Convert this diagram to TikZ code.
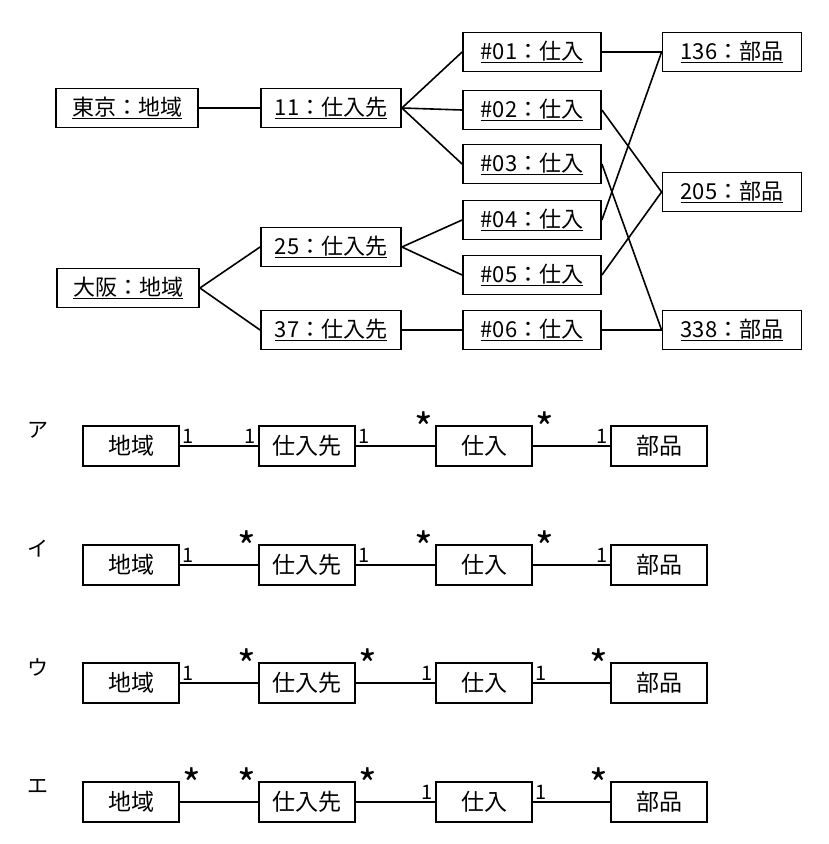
\documentclass[tikz,border=0pt]{standalone}
\usepackage{fontspec}
\setmainfont{Noto Sans CJK JP}
\newcommand{\mymul}[1]{\if#1*\raisebox{-9pt}{\fontsize{40}{40}\selectfont *}\else{\fontsize{20}{22}\selectfont #1}\fi}
\begin{document}
\begin{tikzpicture}[x=1pt,y=-1pt,
  obj/.style={draw,line width=1.8pt,minimum height=39pt,inner sep=0pt,font=\fontsize{22}{24}\selectfont},
  cls/.style={draw,line width=1.6pt,minimum width=96pt,minimum height=40pt,inner sep=0pt,font=\fontsize{23}{25}\selectfont},
  ln/.style={line width=1.6pt},
  mul/.style={inner sep=2pt}]
\useasboundingbox (0,0) rectangle (829,844);
% top object diagram
\node[obj,minimum width=142pt] (tk) at (127,108) {\underline{東京：地域}};
\node[obj,minimum width=142pt] (os) at (128,288) {\underline{大阪：地域}};
\node[obj,minimum width=140pt] (s11) at (331,108) {\underline{11：仕入先}};
\node[obj,minimum width=140pt] (s25) at (331,247) {\underline{25：仕入先}};
\node[obj,minimum width=140pt] (s37) at (331,330) {\underline{37：仕入先}};
\node[obj,minimum width=138pt] (p1) at (532,52) {\underline{\#01：仕入}};
\node[obj,minimum width=138pt] (p2) at (532,110) {\underline{\#02：仕入}};
\node[obj,minimum width=138pt] (p3) at (532,164) {\underline{\#03：仕入}};
\node[obj,minimum width=138pt] (p4) at (532,220) {\underline{\#04：仕入}};
\node[obj,minimum width=138pt] (p5) at (532,275) {\underline{\#05：仕入}};
\node[obj,minimum width=138pt] (p6) at (532,330) {\underline{\#06：仕入}};
\node[obj,minimum width=139pt] (b136) at (732,52) {\underline{136：部品}};
\node[obj,minimum width=139pt] (b205) at (732,192) {\underline{205：部品}};
\node[obj,minimum width=139pt] (b338) at (732,330) {\underline{338：部品}};
\draw[ln] (tk.east) -- (s11.west);
\draw[ln] (os.east) -- (s25.west);
\draw[ln] (os.east) -- (s37.west);
\draw[ln] (s11.east) -- (p1.west);
\draw[ln] (s11.east) -- (p2.west);
\draw[ln] (s11.east) -- (p3.west);
\draw[ln] (s25.east) -- (p4.west);
\draw[ln] (s25.east) -- (p5.west);
\draw[ln] (s37.east) -- (p6.west);
\draw[ln] (p1.east) -- (b136.west);
\draw[ln] (p4.east) -- (b136.west);
\draw[ln] (p2.east) -- (b205.west);
\draw[ln] (p5.east) -- (b205.west);
\draw[ln] (p3.east) -- (b338.west);
\draw[ln] (p6.east) -- (b338.west);
% class diagrams
\foreach \lab/\y/\ma/\mb/\mc/\md/\me/\mf [count=\i] in
  {ア/446/1/1/1/*/*/1, イ/565/1/*/1/*/*/1, ウ/683/1/*/*/1/1/*, エ/802/*/*/*/1/1/*}{
  \node[font=\fontsize{21}{23}\selectfont] (lab\i) at (38,\y-16) {\lab};
  \node[cls] (r\i) at (131,\y) {地域};
  \node[cls] (s\i) at (307,\y) {仕入先};
  \node[cls] (p\i) at (484,\y) {仕入};
  \node[cls] (b\i) at (659,\y) {部品};
  \draw[ln] (r\i.east) -- (s\i.west);
  \draw[ln] (s\i.east) -- (p\i.west);
  \draw[ln] (p\i.east) -- (b\i.west);
  \node[mul,anchor=south west] (ma\i) at (r\i.east) {\mymul{\ma}};
  \node[mul,anchor=south east] (mb\i) at (s\i.west) {\mymul{\mb}};
  \node[mul,anchor=south west] (mc\i) at (s\i.east) {\mymul{\mc}};
  \node[mul,anchor=south east] (md\i) at (p\i.west) {\mymul{\md}};
  \node[mul,anchor=south west] (me\i) at (p\i.east) {\mymul{\me}};
  \node[mul,anchor=south east] (mf\i) at (b\i.west) {\mymul{\mf}};
}
\end{tikzpicture}
\end{document}
